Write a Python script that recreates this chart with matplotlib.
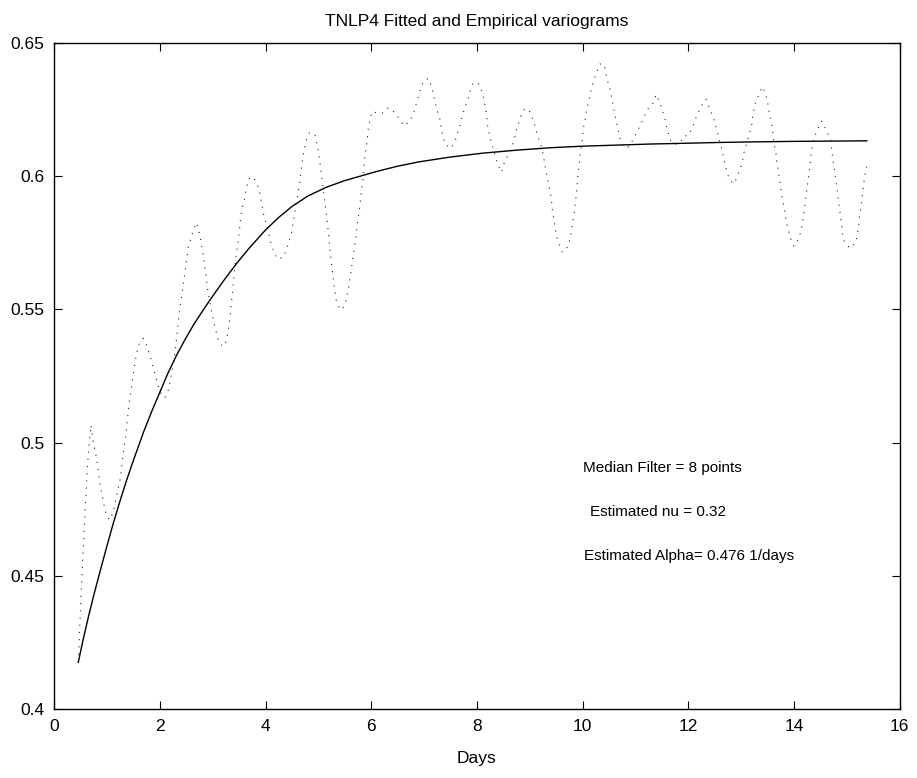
import numpy as np
import matplotlib
matplotlib.use('Agg')
import matplotlib.pyplot as plt
from matplotlib.ticker import FuncFormatter

plt.rcParams['font.family'] = ['Liberation Sans', 'DejaVu Sans']

# Empirical variogram (median filtered), days vs semivariance
emp_days = [
    0.454, 0.486, 0.519, 0.549, 0.581, 0.613, 0.644, 0.695, 0.738, 0.803,
    0.865, 0.928, 0.992, 1.054, 1.117, 1.181, 1.244, 1.306, 1.37, 1.414,
    1.465, 1.509, 1.56, 1.609, 1.685, 1.76, 1.844, 1.938, 2.0, 2.095,
    2.158, 2.222, 2.285, 2.328, 2.379, 2.411, 2.474, 2.537, 2.632, 2.695,
    2.771, 2.821, 2.865, 2.903, 2.96, 3.023, 3.105, 3.187, 3.263, 3.326,
    3.376, 3.42, 3.484, 3.534, 3.565, 3.61, 3.641, 3.692, 3.767, 3.843,
    3.893, 3.925, 3.969, 4.03, 4.10, 4.16, 4.22, 4.336, 4.40, 4.44,
    4.49, 4.54, 4.59, 4.645, 4.68, 4.73, 4.77, 4.83, 4.935, 5.0,
    5.04, 5.08, 5.12, 5.16, 5.195, 5.225, 5.26, 5.30, 5.345, 5.43,
    5.50, 5.565, 5.616, 5.66, 5.705, 5.74, 5.787, 5.82, 5.86, 5.88,
    5.913, 5.944, 5.976, 6.008, 6.12, 6.23, 6.32, 6.44, 6.54, 6.62,
    6.73, 6.8, 6.84, 6.89, 6.935, 6.985, 7.08, 7.144, 7.175, 7.21,
    7.25, 7.3, 7.35, 7.395, 7.51, 7.585, 7.63, 7.68, 7.72, 7.774,
    7.836, 7.88, 7.93, 8.025, 8.09, 8.13, 8.166, 8.185, 8.2, 8.23,
    8.266, 8.31, 8.355, 8.405, 8.47, 8.51, 8.575, 8.645, 8.7, 8.733,
    8.78, 8.83, 8.91, 9.0, 9.07, 9.11, 9.15, 9.21, 9.245, 9.275,
    9.3, 9.33, 9.36, 9.395, 9.415, 9.43, 9.46, 9.48, 9.51, 9.56,
    9.615, 9.71, 9.76, 9.79, 9.81, 9.84, 9.856, 9.875, 9.89, 9.907,
    9.92, 9.94, 9.95, 10.0, 10.01, 10.045, 10.065, 10.1, 10.14, 10.17,
    10.22, 10.27, 10.33, 10.405, 10.44, 10.475, 10.52, 10.55, 10.58, 10.61,
    10.645, 10.675, 10.71, 10.77, 10.88, 10.96, 11.035, 11.105, 11.17, 11.245,
    11.34, 11.39, 11.465, 11.51, 11.56, 11.59, 11.635, 11.686, 11.77, 11.84,
    11.92, 11.989, 12.077, 12.128, 12.191, 12.266, 12.336, 12.399, 12.456, 12.506,
    12.55, 12.588, 12.632, 12.664, 12.702, 12.74, 12.79, 12.872, 12.929, 12.992,
    13.03, 13.061, 13.105, 13.15, 13.2, 13.213, 13.244, 13.276, 13.345, 13.402,
    13.465, 13.503, 13.528, 13.56, 13.591, 13.61, 13.629, 13.661, 13.673, 13.705,
    13.724, 13.749, 13.768, 13.8, 13.831, 13.85, 13.894, 13.926, 14.001, 14.096,
    14.134, 14.165, 14.184, 14.21, 14.228, 14.248, 14.273, 14.292, 14.311, 14.323,
    14.348, 14.386, 14.449, 14.525, 14.569, 14.632, 14.695, 14.714, 14.733, 14.759,
    14.778, 14.797, 14.822, 14.841, 14.86, 14.885, 14.904, 14.916, 14.954, 15.061,
    15.169, 15.2, 15.225, 15.238, 15.263, 15.282, 15.301, 15.32, 15.345, 15.377,
]
emp_gamma = [
    0.4178, 0.4322, 0.4485, 0.461, 0.4735, 0.486, 0.496, 0.5066, 0.5003, 0.4939,
    0.4847, 0.4778, 0.4722, 0.471, 0.474, 0.480, 0.486, 0.496, 0.5054, 0.5147,
    0.5212, 0.5276, 0.5337, 0.5372, 0.5391, 0.536, 0.5303, 0.5235, 0.5191, 0.5168,
    0.5197, 0.526, 0.5335, 0.5416, 0.5512, 0.5547, 0.5641, 0.5735, 0.5797, 0.5825,
    0.5762, 0.57, 0.5635, 0.5572, 0.551, 0.5447, 0.5385, 0.536, 0.5382, 0.5472,
    0.5572, 0.5666, 0.576, 0.5854, 0.5885, 0.5923, 0.596, 0.5991, 0.5997, 0.5966,
    0.5935, 0.5898, 0.5848, 0.581, 0.5748, 0.5716, 0.5689, 0.5695, 0.5725, 0.5754,
    0.5785, 0.5847, 0.591, 0.5973, 0.6038, 0.61, 0.6135, 0.6162, 0.6156, 0.6095,
    0.6031, 0.5966, 0.5904, 0.5841, 0.5776, 0.5712, 0.565, 0.5585, 0.5522, 0.5497,
    0.5514, 0.5575, 0.5641, 0.5704, 0.5766, 0.5829, 0.5891, 0.5954, 0.6019, 0.6081,
    0.6114, 0.6179, 0.621, 0.6241, 0.6237, 0.6237, 0.6256, 0.6239, 0.6213, 0.6188,
    0.6205, 0.6235, 0.6264, 0.6297, 0.6325, 0.6356, 0.6366, 0.6335, 0.6306, 0.6275,
    0.6244, 0.6213, 0.615, 0.612, 0.6104, 0.6129, 0.616, 0.6191, 0.622, 0.626,
    0.6291, 0.6323, 0.6351, 0.6347, 0.6319, 0.6288, 0.6256, 0.6225, 0.6191, 0.6162,
    0.6131, 0.61, 0.6069, 0.6038, 0.6014, 0.6045, 0.6072, 0.6104, 0.6132, 0.6162,
    0.6194, 0.6225, 0.6254, 0.6241, 0.6207, 0.6179, 0.6147, 0.6119, 0.6087, 0.6057,
    0.6026, 0.5995, 0.5964, 0.5931, 0.59, 0.5869, 0.5838, 0.5804, 0.5772, 0.5744,
    0.5714, 0.5733, 0.5763, 0.5794, 0.5825, 0.5857, 0.5889, 0.592, 0.5951, 0.5985,
    0.6016, 0.6048, 0.6079, 0.6141, 0.6175, 0.6206, 0.6237, 0.6269, 0.63, 0.6331,
    0.6363, 0.6391, 0.642, 0.6419, 0.6387, 0.6356, 0.6325, 0.6294, 0.6263, 0.6231,
    0.62, 0.617, 0.6139, 0.6108, 0.611, 0.6139, 0.6169, 0.6195, 0.6225, 0.6254,
    0.6275, 0.6306, 0.6276, 0.6245, 0.6214, 0.6183, 0.6151, 0.6123, 0.612, 0.6123,
    0.6151, 0.6151, 0.6179, 0.621, 0.6239, 0.6269, 0.6288, 0.6256, 0.6226, 0.6198,
    0.6166, 0.6135, 0.6104, 0.6073, 0.6041, 0.601, 0.5982, 0.5972, 0.6, 0.6031,
    0.6062, 0.6094, 0.6122, 0.6154, 0.6187, 0.6216, 0.625, 0.6279, 0.631, 0.6335,
    0.6307, 0.6275, 0.6244, 0.621, 0.6179, 0.6147, 0.6116, 0.6085, 0.6054, 0.6022,
    0.5991, 0.596, 0.5929, 0.5895, 0.5864, 0.5832, 0.58, 0.577, 0.5737, 0.5766,
    0.5797, 0.5829, 0.586, 0.5891, 0.5923, 0.5956, 0.5988, 0.6019, 0.6051, 0.6083,
    0.6114, 0.6145, 0.6175, 0.6206, 0.6191, 0.6163, 0.6135, 0.6101, 0.6069, 0.6037,
    0.6006, 0.5975, 0.5944, 0.5912, 0.5879, 0.5848, 0.5815, 0.5785, 0.5754, 0.5729,
    0.575, 0.5781, 0.5813, 0.5844, 0.5875, 0.5906, 0.5938, 0.597, 0.6002, 0.6035,
]

# Fitted variogram model
fit_days = [
    0.454, 0.55, 0.65, 0.75, 0.87, 1.0, 1.12, 1.25, 1.37, 1.5,
    1.69, 1.85, 2.0, 2.15, 2.32, 2.47, 2.63, 2.8, 2.95, 3.2,
    3.45, 3.7, 4.0, 4.25, 4.5, 4.8, 5.15, 5.5, 5.8, 6.1,
    6.5, 6.9, 7.49, 8.12, 8.75, 9.38, 10.0, 10.65, 11.28, 11.97,
    12.6, 13.23, 14.0, 14.7, 15.38,
]
fit_gamma = [
    0.4176, 0.4265, 0.4350, 0.4430, 0.4520, 0.4615, 0.4700, 0.4785, 0.4860, 0.4935,
    0.5040, 0.5120, 0.5190, 0.5260, 0.5330, 0.5385, 0.5440, 0.5492, 0.5536, 0.5606,
    0.5672, 0.5732, 0.5798, 0.5845, 0.5886, 0.5925, 0.5958, 0.5983, 0.6000, 0.6017,
    0.6037, 0.6053, 0.6071, 0.6086, 0.6097, 0.6106, 0.6112, 0.6116, 0.6120, 0.6123,
    0.6126, 0.6128, 0.6130, 0.6131, 0.6132,
]

median_points = 8
nu = 0.32
alpha = 0.476

fig = plt.figure(figsize=(9.17, 7.78), dpi=100)
ax = fig.add_axes([0.0592, 0.0883, 0.9218, 0.8568])

ax.plot(emp_days, emp_gamma, color='#222222', linewidth=0.8,
        linestyle=(0, (1, 5.5)))
ax.plot(fit_days, fit_gamma, color='black', linestyle='-', linewidth=1.0)

ax.set_xlim(0, 16)
ax.set_ylim(0.4, 0.65)
ax.set_xticks(np.arange(0, 17, 2))
ax.set_yticks(np.arange(0.4, 0.651, 0.05))
ax.yaxis.set_major_formatter(FuncFormatter(lambda v, p: '%g' % round(v, 2)))
ax.tick_params(direction='in', length=6, width=0.8, top=True, right=True,
               labelsize=12.5, pad=7)
for sp in ax.spines.values():
    sp.set_linewidth(1.0)

ax.set_title('TNLP4 Fitted and Empirical variograms', fontsize=12.5, pad=12)
ax.set_xlabel('Days', fontsize=12.5, labelpad=12)

ax.text(10.01, 0.4905, 'Median Filter = %d points' % median_points,
        fontsize=11, va='center')
ax.text(10.14, 0.474, 'Estimated nu = %.2f' % nu, fontsize=11, va='center')
ax.text(10.03, 0.4575, 'Estimated Alpha= %.3f 1/days' % alpha,
        fontsize=11, va='center')

fig.savefig('out.png', dpi=100)
